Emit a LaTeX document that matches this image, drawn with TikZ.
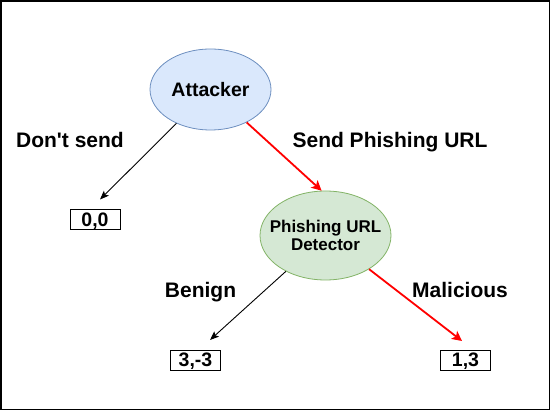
\documentclass[tikz,border=0pt]{standalone}
\usepackage{fontspec}
\setmainfont{Liberation Sans}[Ligatures=TeXOff]
\usetikzlibrary{shapes.geometric,arrows.meta,positioning,calc}
\definecolor{attfill}{HTML}{DAE8FC}
\definecolor{attline}{HTML}{6C8EBF}
\definecolor{detfill}{HTML}{D5E8D4}
\definecolor{detline}{HTML}{82B366}
\definecolor{hot}{HTML}{FF0000}

\begin{document}
\begin{tikzpicture}[x=1pt, y=-1pt, font=\bfseries]
    \tikzset{>=Stealth}
    % players, payoffs and labels
    \tikzstyle{attacker} = [ellipse, minimum width = 121pt, minimum height = 81pt, inner sep = 0pt, text centered, draw = attline, fill = attfill, line width = 0.8pt, font = \bfseries\fontsize{19.5}{22}\selectfont]
    \tikzstyle{detector} = [ellipse, minimum width = 131pt, minimum height = 89pt, inner xsep = -10pt, inner ysep = 0pt, align = center, draw = detline, fill = detfill, line width = 0.8pt, font = \bfseries\fontsize{17}{18.4}\selectfont]
    \tikzstyle{payoff}   = [rectangle, minimum width = 50pt, minimum height = 20pt, inner sep = 0pt, text depth = 0pt, draw = black, fill = white, line width = 1pt, font = \bfseries\fontsize{19.5}{22}\selectfont]
    \tikzstyle{move}     = [anchor = base, inner sep = 0pt, font = \bfseries\fontsize{21}{24}\selectfont]
    \tikzstyle{arrow}    = [line width = 0.9pt, -{Stealth[length = 9pt, width = 7pt, inset = 2pt]}]
    \tikzstyle{redarrow} = [line width = 1.8pt, hot, -{Stealth[length = 10pt, width = 10pt, inset = 2.5pt]}]

    \useasboundingbox (0,0) rectangle (551,411);
    \draw[line width = 1.6pt] (1,1) rectangle (549.5,409.5);

    \node[attacker] (att) at (210.5,89.5) {Attacker};
    \node[detector] (det) at (325.5,235.5) {Phishing URL\\Detector};

    \node[payoff] (nosend) at (95,220) {0,0};
    \node[payoff] (benign) at (195.5,360) {3,-3};
    \node[payoff] (malic)  at (465.5,360) {1,3};

    \node[move] (dontL)  at (70,147.5)  {Don't send};
    \node[move] (sendL)  at (390,147.5) {Send Phishing URL};
    \node[move] (benL)   at (200.5,297.5) {Benign};
    \node[move] (malL)   at (460,297.5) {Malicious};

    \coordinate (nosendTip) at (100,199.5);
    \coordinate (benignTip) at (210,340);
    \coordinate (malicTip)  at (462,341);

    \draw[arrow]    (att) -- (nosendTip);
    \draw[redarrow] (att) -- (det.95);
    \draw[arrow]    (det) -- (benignTip);
    \draw[redarrow] (det) -- (malicTip);
\end{tikzpicture}
\end{document}
